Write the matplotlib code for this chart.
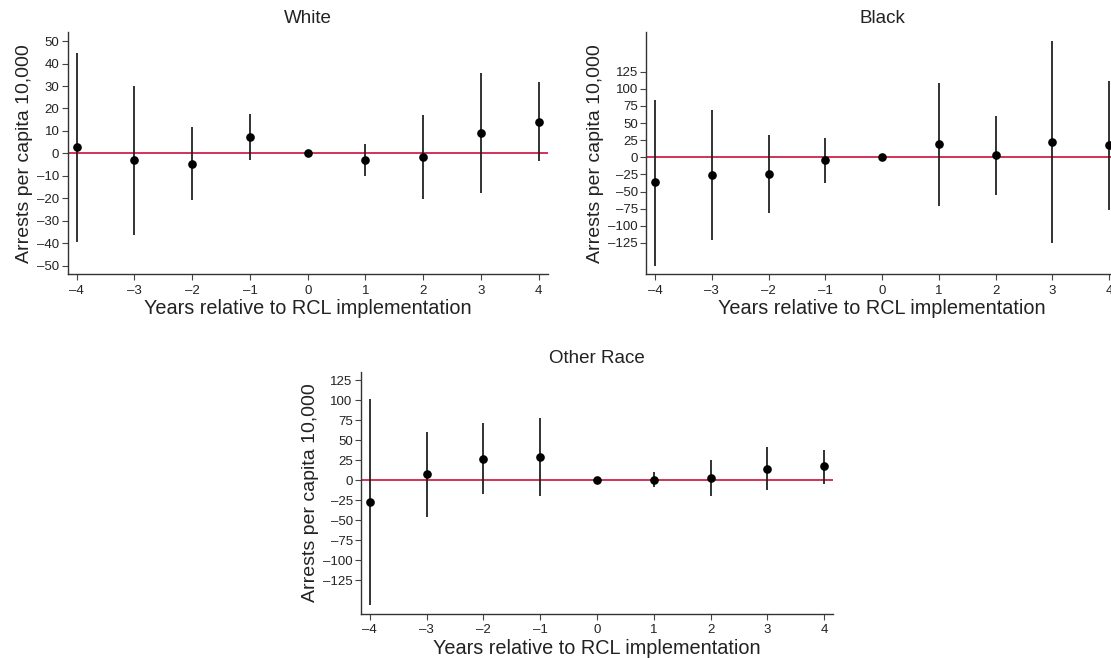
import matplotlib
matplotlib.use("Agg")
import matplotlib.pyplot as plt

plt.rcParams['font.family'] = ['Liberation Sans', 'DejaVu Sans']

years = [-4, -3, -2, -1, 0, 1, 2, 3, 4]

white_est = [2.7, -3.0, -4.6, 7.5, 0.0, -2.8, -1.7, 9.2, 14.2]
white_lo = [-39.3, -36.1, -20.9, -2.8, 0.0, -9.9, -20.5, -17.5, -3.4]
white_hi = [44.7, 30.0, 11.7, 17.4, 0.0, 4.2, 17.0, 36.0, 31.7]

black_est = [-36.5, -26.3, -23.8, -4.4, 0.0, 19.0, 2.9, 21.9, 17.5]
black_lo = [-158.0, -120.6, -81.2, -37.5, 0.0, -71.0, -54.5, -125.5, -76.4]
black_hi = [84.2, 69.1, 33.1, 28.7, 0.0, 109.0, 59.8, 169.8, 110.9]

other_est = [-27.1, 7.5, 26.7, 29.6, 0.0, 0.8, 2.5, 14.6, 17.5]
other_lo = [-155.8, -45.4, -17.5, -19.2, 0.0, -8.8, -19.6, -12.5, -4.2]
other_hi = [101.3, 60.0, 71.3, 78.3, 0.0, 10.8, 25.0, 41.7, 38.3]

white_ticks = [-50, -40, -30, -20, -10, 0, 10, 20, 30, 40, 50]
wide_ticks = [-125, -100, -75, -50, -25, 0, 25, 50, 75, 100, 125]

panels = [
    ("White", white_est, white_lo, white_hi, white_ticks, (-53.8, 53.9),
     (67.7, 547.7, 32.3, 274.3)),
    ("Black", black_est, black_lo, black_hi, wide_ticks, (-170.8, 182.5),
     (646.3, 1118.0, 32.3, 274.3)),
    ("Other Race", other_est, other_lo, other_hi, wide_ticks, (-166.7, 135.0),
     (361.0, 833.0, 372.3, 613.7)),
]

W, H = 1111, 658
fig = plt.figure(figsize=(W / 100, H / 100), dpi=100)

for title, est, lo, hi, yt, ylim, (l, r, t, b) in panels:
    ax = fig.add_axes([l / W, 1 - b / H, (r - l) / W, (b - t) / H])
    ax.axhline(0, color='#c8103a', lw=1.2, zorder=1)
    ax.vlines(years, lo, hi, color='#222222', lw=1.3, zorder=2)
    ax.plot(years, est, 'o', color='black', ms=5.2, zorder=3)
    ax.set_xlim(-4.155, 4.155)
    ax.set_ylim(*ylim)
    ax.set_xticks(years)
    ax.set_xticklabels([str(y).replace('-', '\u2013') for y in years])
    ax.set_yticks(yt)
    ax.set_yticklabels([str(v).replace('-', '\u2013') for v in yt])
    for s in ('top', 'right'):
        ax.spines[s].set_visible(False)
    for s in ('left', 'bottom'):
        ax.spines[s].set_color('#333333')
        ax.spines[s].set_linewidth(1.0)
    ax.tick_params(axis='both', direction='out', length=4, width=0.8,
                   color='#444444', labelsize=9.5, labelcolor='#222222')
    ax.tick_params(axis='x', pad=3.5)
    ax.tick_params(axis='y', pad=2)
    ax.set_xlabel("Years relative to RCL implementation", fontsize=14.3,
                  color='#222222', labelpad=2)
    ax.set_ylabel("Arrests per capita 10,000", fontsize=14, color='#222222',
                  labelpad=3)
    ax.set_title(title, fontsize=13.5, color='#222222', pad=7)

fig.savefig("out.png", dpi=100)
